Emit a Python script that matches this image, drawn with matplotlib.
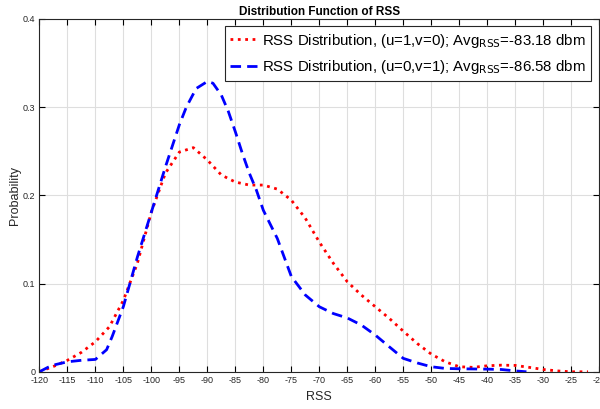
import matplotlib
matplotlib.use('Agg')
import matplotlib.pyplot as plt

plt.rcParams['font.family'] = ['Liberation Sans', 'DejaVu Sans']

# RSS distribution, (u=1,v=0)
rss_a = [-120, -117.5, -115, -112.5, -110, -107.5, -105, -102.5, -100, -97.5,
         -95, -92.5, -90, -87.5, -85, -82.5, -80, -77.5, -75, -72.5,
         -70, -67.5, -65, -62.5, -60, -57.5, -55, -52.5, -50, -47.5,
         -45, -42.5, -40, -37.5, -35, -32.5, -30, -27.5, -25, -22]
prob_a = [0, 0.006, 0.013, 0.022, 0.034, 0.051, 0.081, 0.123, 0.181, 0.225,
          0.249, 0.254, 0.240, 0.223, 0.215, 0.2116, 0.2116, 0.207, 0.1945, 0.174,
          0.147, 0.123, 0.102, 0.087, 0.0737, 0.0605, 0.046, 0.032, 0.020, 0.0113,
          0.0057, 0.005, 0.0068, 0.0075, 0.0072, 0.005, 0.0026, 0.001, 0.0, 0.0]

# RSS distribution, (u=0,v=1)
rss_b = [-120, -118.5, -117.5, -115, -112.5, -110, -108, -107, -105, -102.5,
         -100, -97.5, -95, -93.75, -92, -90, -89, -87.5, -86.25, -85,
         -83.75, -82.5, -81.25, -80, -77.5, -75, -72.5, -70, -67.5, -65,
         -62.5, -60, -57.5, -55, -52.5, -50, -47.5, -45, -40, -37.5, -35, -33]
prob_b = [0, 0.005, 0.0076, 0.0113, 0.013, 0.014, 0.025, 0.040, 0.074, 0.130,
          0.181, 0.232, 0.280, 0.300, 0.321, 0.329, 0.327, 0.3135, 0.295, 0.272,
          0.2475, 0.225, 0.206, 0.183, 0.151, 0.108, 0.087, 0.0737, 0.066, 0.061,
          0.053, 0.0416, 0.0283, 0.0152, 0.010, 0.0057, 0.0038, 0.0034, 0.003, 0.0026, 0.001, 0.0]

labels = ['RSS Distribution, (u=1,v=0); Avg$_{\\mathrm{RSS}}$=-83.18 dbm',
          'RSS Distribution, (u=0,v=1); Avg$_{\\mathrm{RSS}}$=-86.58 dbm']

xticks = list(range(-120, -15, 5))
yticks = [0, 0.1, 0.2, 0.3, 0.4]

fig = plt.figure(figsize=(6, 4.09), dpi=100)
ax = fig.add_axes([0.0657, 0.091, 0.933, 0.863])

ax.plot(rss_a, prob_a, color='red', linestyle=':', linewidth=2, label=labels[0])
ax.plot(rss_b, prob_b, color='blue', linestyle=(0, (3.8, 2.2)), linewidth=2, label=labels[1])

ax.set_xlim(-120, -20)
ax.set_ylim(0, 0.4)
ax.set_xticks(xticks)
ax.set_xticklabels([str(t) for t in xticks])
ax.set_yticks(yticks)
ax.set_yticklabels(['0', '0.1', '0.2', '0.3', '0.4'])
ax.grid(True, color='#dedede', linewidth=0.8)
ax.set_axisbelow(True)
ax.tick_params(direction='in', top=True, right=True, length=4, width=0.8,
               labelsize=6.5, labelcolor='#262626', pad=3)
for s in ax.spines.values():
    s.set_linewidth(0.8)
    s.set_color('#262626')

ax.set_xlabel('RSS', fontsize=9, color='#262626', labelpad=4)
ax.set_ylabel('Probability', fontsize=9, color='#262626', labelpad=1)
ax.set_title('Distribution Function of RSS', fontsize=8.5, fontweight='bold', pad=3)

leg = ax.legend(loc='upper right', fontsize=10.8, frameon=True, fancybox=False,
                edgecolor='#262626', framealpha=1, handlelength=1.8,
                handletextpad=0.3, borderpad=0.35, labelspacing=0.55,
                bbox_to_anchor=(0.998, 1.0))
leg.get_frame().set_linewidth(0.8)

fig.savefig('out.png', dpi=100)
